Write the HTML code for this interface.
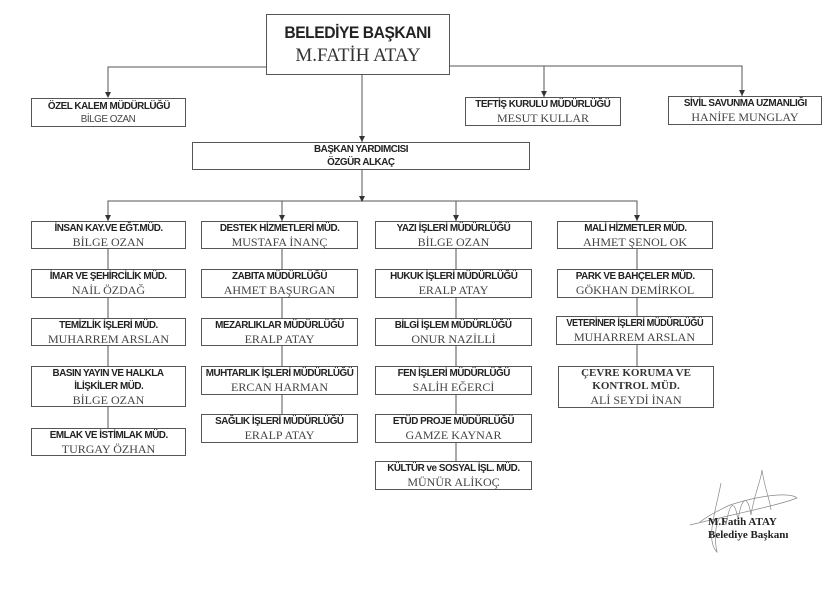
<!DOCTYPE html>
<html><head><meta charset="utf-8"><style>
body{margin:0;width:840px;height:595px;background:#fff;position:relative;overflow:hidden}
.b{position:absolute;border:1px solid #555;box-sizing:border-box;text-align:center;display:flex;flex-direction:column;justify-content:center;align-items:center;background:#fff}
.l{font-family:"Liberation Sans",sans-serif;font-weight:bold;font-size:10.5px;letter-spacing:-0.5px;color:#222;line-height:13px;white-space:nowrap;transform:scaleX(0.94)}
.n{font-family:"Liberation Serif",serif;font-size:12px;color:#444;line-height:14px;white-space:nowrap}
.s{font-family:"Liberation Serif",serif;font-weight:bold;font-size:11px;color:#333;line-height:13px}
svg{position:absolute;left:0;top:0}
</style></head><body>
<svg width="840" height="595">
<g stroke="#555" stroke-width="1" fill="none">
<path d="M266,67 H108 V97"/>
<path d="M450,66 H742 V96"/>
<path d="M544,66 V97"/>
<path d="M362,75 V142"/>
<path d="M362,170 V201"/>
<path d="M108,221 V201 H637 V221"/>
<path d="M282,201 V221"/>
<path d="M456,201 V221"/>
<path d="M108,249 V428"/>
<path d="M282,249 V414"/>
<path d="M456,249 V461"/>
<path d="M637,249 V366"/>
</g>
<g fill="#333">
<path d="M105,92 L111,92 L108,98 Z"/>
<path d="M541,91 L547,91 L544,97 Z"/>
<path d="M739,90 L745,90 L742,96 Z"/>
<path d="M359,136 L365,136 L362,142 Z"/>
<path d="M359,196 L365,196 L362,202 Z"/>
<path d="M105,215 L111,215 L108,221 Z"/>
<path d="M279,215 L285,215 L282,221 Z"/>
<path d="M453,215 L459,215 L456,221 Z"/>
<path d="M634,215 L640,215 L637,221 Z"/>
</g>
<g stroke="#888" stroke-width="0.7" fill="none">
<path d="M721,483 C716,510 705,540 717,552 C712,530 720,505 726,525 C730,500 735,500 738,520 C742,495 748,495 751,515 C755,490 760,485 762,470 C765,490 770,500 771,510"/>
<path d="M690,525 C730,515 780,505 797,498 C790,492 760,495 730,505 C715,512 705,518 700,522"/>
</g>
</svg>
<div class="b" style="left:266px;top:14px;width:184px;height:61px"><div style="font-family:'Liberation Sans',sans-serif;font-weight:bold;font-size:17px;color:#222;line-height:22px;letter-spacing:-0.5px;transform:scaleX(0.92)">BELEDİYE BAŞKANI</div><div style="font-family:'Liberation Serif',serif;font-size:19px;color:#333;line-height:23px">M.FATİH ATAY</div></div>
<div class="b" style="left:31px;top:98px;width:155px;height:29px"><div class="l">ÖZEL KALEM MÜDÜRLÜĞÜ</div><div class="l" style="font-weight:normal;color:#444">BİLGE OZAN</div></div>
<div class="b" style="left:465px;top:97px;width:156px;height:29px"><div class="l">TEFTİŞ KURULU MÜDÜRLÜĞÜ</div><div class="n">MESUT KULLAR</div></div>
<div class="b" style="left:668px;top:96px;width:154px;height:29px"><div class="l">SİVİL SAVUNMA UZMANLIĞI</div><div class="n">HANİFE MUNGLAY</div></div>
<div class="b" style="left:192px;top:142px;width:338px;height:28px"><div class="l">BAŞKAN YARDIMCISI</div><div class="l">ÖZGÜR ALKAÇ</div></div>

<div class="b" style="left:31px;top:221px;width:155px;height:28px"><div class="l">İNSAN KAY.VE EĞT.MÜD.</div><div class="n">BİLGE OZAN</div></div>
<div class="b" style="left:31px;top:269px;width:155px;height:29px"><div class="l">İMAR VE ŞEHİRCİLİK MÜD.</div><div class="n">NAİL ÖZDAĞ</div></div>
<div class="b" style="left:31px;top:318px;width:155px;height:28px"><div class="l">TEMİZLİK İŞLERİ MÜD.</div><div class="n">MUHARREM ARSLAN</div></div>
<div class="b" style="left:31px;top:366px;width:155px;height:41px"><div class="l">BASIN YAYIN VE HALKLA</div><div class="l">İLİŞKİLER MÜD.</div><div class="n">BİLGE OZAN</div></div>
<div class="b" style="left:31px;top:428px;width:155px;height:28px"><div class="l">EMLAK VE İSTİMLAK MÜD.</div><div class="n">TURGAY ÖZHAN</div></div>

<div class="b" style="left:201px;top:221px;width:157px;height:28px"><div class="l">DESTEK HİZMETLERİ MÜD.</div><div class="n">MUSTAFA İNANÇ</div></div>
<div class="b" style="left:201px;top:269px;width:157px;height:29px"><div class="l">ZABITA MÜDÜRLÜĞÜ</div><div class="n">AHMET BAŞURGAN</div></div>
<div class="b" style="left:201px;top:318px;width:157px;height:28px"><div class="l">MEZARLIKLAR MÜDÜRLÜĞÜ</div><div class="n">ERALP ATAY</div></div>
<div class="b" style="left:201px;top:366px;width:157px;height:29px"><div class="l">MUHTARLIK İŞLERİ MÜDÜRLÜĞÜ</div><div class="n">ERCAN HARMAN</div></div>
<div class="b" style="left:201px;top:414px;width:157px;height:29px"><div class="l">SAĞLIK İŞLERİ MÜDÜRLÜĞÜ</div><div class="n">ERALP ATAY</div></div>

<div class="b" style="left:375px;top:221px;width:157px;height:28px"><div class="l">YAZI İŞLERİ MÜDÜRLÜĞÜ</div><div class="n">BİLGE OZAN</div></div>
<div class="b" style="left:375px;top:269px;width:157px;height:29px"><div class="l">HUKUK İŞLERİ MÜDÜRLÜĞÜ</div><div class="n">ERALP ATAY</div></div>
<div class="b" style="left:375px;top:318px;width:157px;height:28px"><div class="l">BİLGİ İŞLEM MÜDÜRLÜĞÜ</div><div class="n">ONUR NAZİLLİ</div></div>
<div class="b" style="left:375px;top:366px;width:157px;height:29px"><div class="l">FEN İŞLERİ MÜDÜRLÜĞÜ</div><div class="n">SALİH EĞERCİ</div></div>
<div class="b" style="left:375px;top:414px;width:157px;height:29px"><div class="l">ETÜD PROJE MÜDÜRLÜĞÜ</div><div class="n">GAMZE KAYNAR</div></div>
<div class="b" style="left:375px;top:461px;width:157px;height:29px"><div class="l">KÜLTÜR ve SOSYAL İŞL. MÜD.</div><div class="n">MÜNÜR ALİKOÇ</div></div>

<div class="b" style="left:557px;top:221px;width:156px;height:28px"><div class="l">MALİ HİZMETLER MÜD.</div><div class="n">AHMET ŞENOL OK</div></div>
<div class="b" style="left:557px;top:269px;width:156px;height:29px"><div class="l">PARK VE BAHÇELER MÜD.</div><div class="n">GÖKHAN DEMİRKOL</div></div>
<div class="b" style="left:556px;top:316px;width:157px;height:29px"><div class="l" style="transform:scaleX(0.88)">VETERİNER İŞLERİ MÜDÜRLÜĞÜ</div><div class="n">MUHARREM ARSLAN</div></div>
<div class="b" style="left:558px;top:366px;width:156px;height:42px"><div class="s">ÇEVRE KORUMA VE</div><div class="s">KONTROL MÜD.</div><div class="n">ALİ SEYDİ İNAN</div></div>

<div style="position:absolute;left:708px;top:516px;font-family:'Liberation Serif',serif;font-weight:bold;font-size:11px;line-height:13px;color:#222">M.Fatih ATAY<br>Belediye Başkanı</div>
</body></html>
